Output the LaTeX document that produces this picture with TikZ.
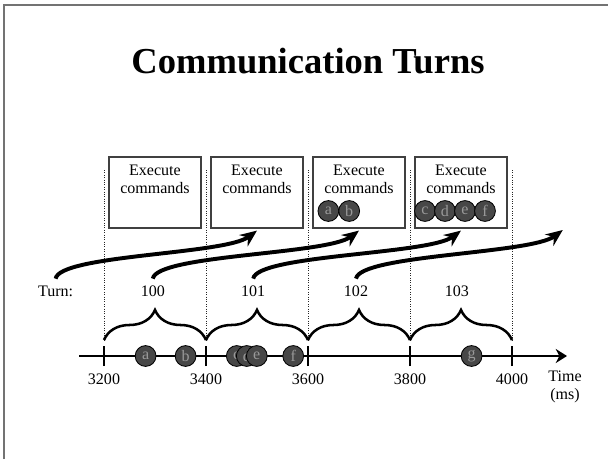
\documentclass[tikz,border=0pt]{standalone}
\usepackage{fontspec}
\setmainfont{Liberation Serif}
\usetikzlibrary{positioning}
\usetikzlibrary{arrows.meta}
\usetikzlibrary{decorations.pathreplacing}
\colorlet{framec}{black!55}
\colorlet{boxc}{black!75}
\colorlet{cmdc}{black!72}

\begin{document}
\begin{tikzpicture}[
  every node/.style={font=\fontsize{11.4}{12.8}\selectfont},
  execbox/.style={draw=boxc, line width=0.8pt, minimum width=2.3cm, minimum height=1.775cm, inner sep=0pt},
  cmd/.style={circle, draw=black, line width=0.6pt, fill=cmdc, minimum size=0.52cm, inner sep=0pt, text=black!40},
  turnarrow/.style={line width=2.8pt, -{Stealth[length=12pt, width=10pt]}},
  period/.style={decorate, decoration={brace, amplitude=0.75cm}, line width=1.8pt},
  slot/.style={densely dotted, black!85, line width=0.7pt}
]
        \useasboundingbox (0,0) rectangle (15.2,11.475);
        \draw[framec, line width=1.4pt] (0.1,0) -- (0.1,11.34) -- (15.2,11.34);

        \node[font=\fontsize{26}{30}\selectfont\bfseries] (title) at (7.7,9.96) {Communication Turns};

        % time axis
        \coordinate (axl) at (1.975,2.575);
        \coordinate (axr) at (14.175,2.575);
        \draw[line width=2.1pt, -{Stealth[length=8pt, width=10pt]}] (axl) -- (axr);
        \node[align=center] (timelab) at (14.125,1.8) {Time\\(ms)};

        \foreach \i/\x/\t in {0/2.6/3200, 1/5.15/3400, 2/7.7/3600, 3/10.25/3800, 4/12.8/4000} {
          \coordinate (t\i) at (\x,2.575);
          \coordinate (b\i) at (\x,2.975);
          \coordinate (s\i) at (\x,7.225);
          \draw[line width=2pt] ([yshift=-0.25cm]t\i) -- ([yshift=0.25cm]t\i);
          \node (lab\i) at (\x,2.0) {\t};
          \draw[slot] (s\i) -- (b\i);
        }

        % one brace per turn
        \draw[period] (b0) -- (b1);
        \draw[period] (b1) -- (b2);
        \draw[period] (b2) -- (b3);
        \draw[period] (b3) -- (b4);

        % command boxes
        \foreach \i/\x in {1/3.875, 2/6.425, 3/8.975, 4/11.525} {
          \node[execbox] (box\i) at (\x,6.6625) {};
          \node[align=center] (boxtxt\i) at (\x,6.99) {Execute\\commands};
        }
        \coordinate (box5) at (14.07,5.775);

        % commands as they arrive
        \node[cmd] (ca) at (3.64,2.575) {a};
        \node[cmd] (cb) at (4.64,2.575) {b};
        \node[cmd] (cc) at (5.92,2.575) {c};
        \node[cmd] (cd) at (6.17,2.575) {d};
        \node[cmd] (ce) at (6.42,2.575) {e};
        \node[cmd] (cf) at (7.33,2.575) {f};
        \node[cmd] (cg) at (11.79,2.575) {g};

        % commands as they are executed
        \node[cmd] (xa) at (8.21,6.2) {a};
        \node[cmd] (xb) at (8.73,6.2) {b};
        \node[cmd] (xc) at (10.625,6.2) {c};
        \node[cmd] (xd) at (11.125,6.2) {d};
        \node[cmd] (xe) at (11.625,6.2) {e};
        \node[cmd] (xf) at (12.125,6.2) {f};

        % turn numbers
        \node (turn99) at (1.39,4.2) {Turn:};
        \node (turn100) at (3.82,4.2) {100};
        \node (turn101) at (6.33,4.2) {101};
        \node (turn102) at (8.9,4.2) {102};
        \node (turn103) at (11.42,4.2) {103};

        \draw[turnarrow] ([yshift=0.05cm]turn99.north) .. controls +(0.1,0.6) and +(-0.8,-0.6) .. ([yshift=-0.05cm]box2.south);
        \draw[turnarrow] ([yshift=0.05cm]turn100.north) .. controls +(0.1,0.6) and +(-0.8,-0.6) .. ([yshift=-0.05cm]box3.south);
        \draw[turnarrow] ([yshift=0.05cm]turn101.north) .. controls +(0.1,0.6) and +(-0.8,-0.6) .. ([yshift=-0.05cm]box4.south);
        \draw[turnarrow] ([yshift=0.05cm]turn102.north) .. controls +(0.1,0.6) and +(-0.8,-0.6) .. ([yshift=-0.05cm]box5);
\end{tikzpicture}
\end{document}
